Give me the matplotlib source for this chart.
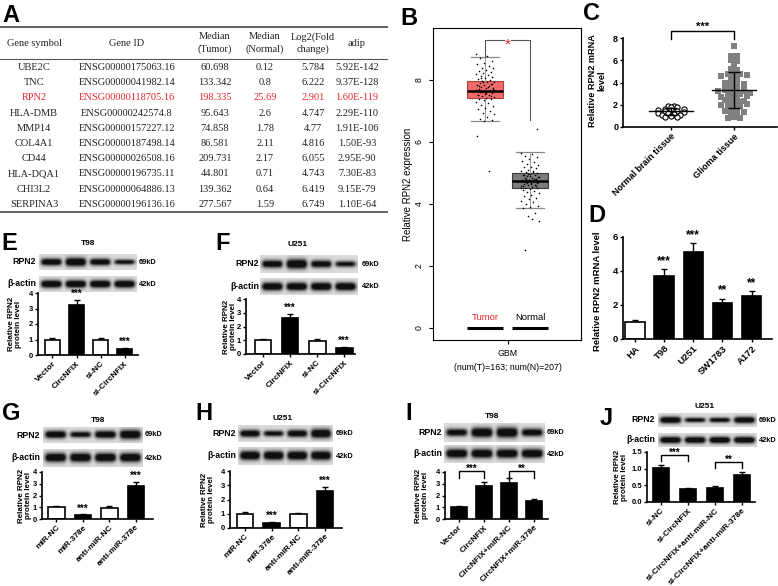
import numpy as np
import matplotlib
matplotlib.use('Agg')
import matplotlib.pyplot as plt

W, H = 778, 586
fig = plt.figure(figsize=(W / 100, H / 100), dpi=100)
SANS = ['Liberation Sans', 'DejaVu Sans']
SERIF = ['Liberation Serif', 'DejaVu Serif']
plt.rcParams['font.family'] = SANS

# ---------------- data ----------------
# Panel A table
table_header = ['Gene symbol', 'Gene ID', 'Median\n(Tumor)', 'Median\n(Normal)', 'Log2(Fold\nchange)', 'adip']
gene_symbols = ['UBE2C', 'TNC', 'RPN2', 'HLA-DMB', 'MMP14', 'COL4A1', 'CD44', 'HLA-DQA1', 'CHI3L2', 'SERPINA3']
gene_ids = ['ENSG00000175063.16', 'ENSG00000041982.14', 'ENSG00000118705.16', 'ENSG00000242574.8',
            'ENSG00000157227.12', 'ENSG00000187498.14', 'ENSG00000026508.16', 'ENSG00000196735.11',
            'ENSG00000064886.13', 'ENSG00000196136.16']
median_tumor = [60.698, 133.342, 198.335, 95.643, 74.858, 86.581, 209.731, 44.801, 139.362, 277.567]
median_normal = [0.12, 0.8, 25.69, 2.6, 1.78, 2.11, 2.17, 0.71, 0.64, 1.59]
log2_fold_change = [5.784, 6.222, 2.901, 4.747, 4.77, 4.816, 6.055, 4.743, 6.419, 6.749]
adip = ['5.92E-142', '9.37E-128', '1.60E-119', '2.29E-110', '1.91E-106', '1.50E-93', '2.95E-90',
        '7.30E-83', '9.15E-79', '1.10E-64']
highlight_gene = 'RPN2'

# Panel B (GEPIA box plot)
b_groups = ['Tumor', 'Normal']
tumor_box = [6.67, 7.42, 7.65, 7.98, 8.75]    # whisker low, Q1, median, Q3, whisker high
normal_box = [3.87, 4.50, 4.75, 5.00, 5.67]
tumor_points = [8.85, 8.78, 8.7, 8.62, 8.55, 8.5, 8.45, 8.4, 8.38, 8.33, 8.3, 8.27, 8.22, 8.2, 8.15,
                8.12, 8.1, 8.05, 8.02, 8.0, 7.98, 7.95, 7.93, 7.9, 7.88, 7.85, 7.83, 7.8, 7.78, 7.75,
                7.73, 7.7, 7.68, 7.66, 7.65, 7.63, 7.6, 7.58, 7.55, 7.53, 7.5, 7.48, 7.45, 7.43, 7.4,
                7.38, 7.35, 7.3, 7.25, 7.2, 7.15, 7.1, 7.05, 7.0, 6.95, 6.9, 6.82, 6.75, 6.7, 6.68,
                6.18, 5.07, 7.62, 7.72, 7.57, 7.82, 7.47, 7.92, 7.67, 7.77, 8.07, 7.87, 7.61, 7.52]
normal_points = [5.65, 5.6, 5.55, 5.5, 5.45, 5.4, 5.35, 5.3, 5.25, 5.2, 5.18, 5.15, 5.1, 5.08, 5.05,
                 5.02, 5.0, 4.98, 4.95, 4.93, 4.9, 4.88, 4.85, 4.83, 4.8, 4.78, 4.76, 4.74, 4.72, 4.7,
                 4.68, 4.65, 4.62, 4.6, 4.58, 4.55, 4.52, 4.5, 4.47, 4.45, 4.42, 4.4, 4.35, 4.3, 4.25,
                 4.2, 4.15, 4.1, 4.05, 4.0, 3.95, 3.9, 3.88, 3.7, 3.62, 3.45, 3.5, 2.5, 6.42, 4.77,
                 4.73, 4.82, 4.67, 4.87, 4.63, 4.92, 4.57, 4.97, 4.53, 5.03, 4.81, 4.69, 4.91, 4.59]
b_xlabel = 'GBM\n(num(T)=163; num(N)=207)'

# Panel C
c_groups = ['Normal brain tissue', 'Glioma tissue']
normal_tissue = [1.9, 1.88, 1.82, 1.78, 1.65, 1.6, 1.55, 1.5, 1.45, 1.42, 1.35, 1.3, 1.22, 1.18,
                 1.1, 1.05, 0.98, 0.92, 0.88]
glioma_tissue = [7.25, 6.4, 6.35, 6.0, 5.95, 5.8, 5.5, 5.2, 5.15, 4.8, 4.75, 4.75, 4.7, 4.6, 4.35,
                 4.3, 4.1, 4.05, 3.95, 3.85, 3.75, 3.6, 3.5, 3.45, 3.4, 3.35, 3.3, 3.25, 3.2, 3.1,
                 3.05, 2.95, 2.85, 2.75, 2.7, 2.6, 2.5, 2.45, 2.35, 2.3, 2.25, 2.2, 2.1, 2.0, 1.95,
                 1.85, 1.75, 1.5, 1.45, 1.4, 1.35, 1.25, 0.95, 0.9, 0.85, 0.85]

# Panel D
d_labels = ['HA', 'T98', 'U251', 'SW1783', 'A172']
d_values = [0.98, 3.69, 5.12, 2.13, 2.52]
d_errors = [0.15, 0.40, 0.52, 0.25, 0.30]
d_stars = ['', '***', '***', '**', '**']

# Panels E-J
ef_labels = ['Vector', 'CircNFIX', 'si-NC', 'si-CircNFIX']
e_values = [1.0, 3.22, 0.97, 0.38]
e_errors = [0.10, 0.33, 0.13, 0.08]
f_values = [1.0, 2.62, 0.97, 0.45]
f_errors = [0.10, 0.28, 0.12, 0.06]
ef_stars = ['', '***', '', '***']

gh_labels = ['miR-NC', 'miR-378e', 'anti-miR-NC', 'anti-miR-378e']
g_values = [1.0, 0.33, 0.95, 2.85]
g_errors = [0.10, 0.07, 0.13, 0.30]
h_values = [1.0, 0.38, 0.95, 2.62]
h_errors = [0.10, 0.06, 0.13, 0.28]
gh_stars = ['', '***', '', '***']

i_labels = ['Vector', 'CircNFIX', 'CircNFIX+miR-NC', 'CircNFIX+miR-378e']
i_values = [1.0, 2.82, 3.10, 1.50]
i_errors = [0.10, 0.35, 0.38, 0.18]
i_brackets = [(0, 1, '***'), (2, 3, '**')]

j_labels = ['si-NC', 'si-CircNFIX', 'si-CircNFIX+anti-miR-NC', 'si-CircNFIX+anti-miR-378e']
j_values = [1.02, 0.38, 0.42, 0.81]
j_errors = [0.08, 0.04, 0.05, 0.09]
j_brackets = [(0, 1, '***'), (2, 3, '**')]

# western blot band strengths (RPN2, beta-actin)
e_bands = ([0.7, 1.0, 0.65, 0.35], [0.8, 0.8, 0.8, 0.8])
f_bands = ([0.65, 1.0, 0.6, 0.35], [0.8, 0.8, 0.8, 0.8])
g_bands = ([0.7, 0.45, 0.7, 1.0], [0.8, 0.8, 0.8, 0.8])
h_bands = ([0.65, 0.4, 0.65, 1.0], [0.8, 0.8, 0.8, 0.8])
i_bands = ([0.55, 0.9, 1.0, 0.6], [0.8, 0.8, 0.8, 0.8])
j_bands = ([0.8, 0.4, 0.45, 0.75], [0.8, 0.8, 0.8, 0.8])


# ---------------- helpers ----------------
def px_axes(x0, y0, x1, y1):
    return fig.add_axes([x0 / W, 1 - y1 / H, (x1 - x0) / W, (y1 - y0) / H])


def ftext(x, y, s, **kw):
    return fig.text(x / W, 1 - y / H, s, **kw)


def panel_letter(x, y, s):
    ftext(x, y, s, fontsize=17, fontweight='bold', ha='left', va='baseline', family=SANS)


def gp_style(ax, tick_fs):
    for sp in ['top', 'right']:
        ax.spines[sp].set_visible(False)
    for sp in ['left', 'bottom']:
        ax.spines[sp].set_linewidth(1.2)
    ax.tick_params(axis='both', direction='out', length=2.5, width=1.0, labelsize=tick_fs, pad=1)
    for t in ax.get_yticklabels():
        t.set_fontweight('bold')


def blot(x0, y0, x1, y1, strengths):
    ax = px_axes(x0, y0, x1, y1)
    nx, ny = 240, 40
    xs = np.linspace(0, 1, nx)
    ys = np.linspace(-1, 1, ny)
    img = np.zeros((ny, nx))
    n = len(strengths)
    for i, s in enumerate(strengths):
        c = (i + 0.5) / n
        hw = 0.40 / n
        prof_x = 1 / (1 + np.exp(-(hw - np.abs(xs - c)) / 0.012))
        sig = 0.16 + 0.22 * s
        prof_y = np.exp(-0.5 * (ys / sig) ** 2)
        img = np.maximum(img, min(1.0, 0.6 + 0.5 * s) * np.outer(prof_y, prof_x))
    bg = 0.86
    gray = bg - (bg - 0.06) * np.clip(img * 1.4, 0, 1)
    ax.imshow(gray, cmap='gray', vmin=0, vmax=1, aspect='auto', extent=(0, 1, 1, 0),
              interpolation='bilinear')
    ax.set_axis_off()


def wb(title, tx, ty, xa, xb, rpn2_y, actin_y, bands, lab_x, kd_x):
    ftext(tx, ty, title, fontsize=6, fontweight='bold', ha='center', va='center')
    blot(xa, rpn2_y[0], xb, rpn2_y[1], bands[0])
    blot(xa, actin_y[0], xb, actin_y[1], bands[1])
    ftext(lab_x, sum(rpn2_y) / 2, 'RPN2', fontsize=6.3, fontweight='bold', ha='right', va='center')
    ftext(lab_x, sum(actin_y) / 2, 'β-actin', fontsize=6.3, fontweight='bold', ha='right', va='center')
    ftext(kd_x, sum(rpn2_y) / 2, '69kD', fontsize=5.3, fontweight='bold', ha='left', va='center')
    ftext(kd_x, sum(actin_y) / 2, '42kD', fontsize=5.3, fontweight='bold', ha='left', va='center')


def bar_panel(box, xlim, ymax, yticks, yfmt, labels, vals, errs, fills, ylabel, lab_rx,
              stars=None, brackets=None, tick_fs=5.5, xtick_fs=6.0, lab_fs=5.8, star_fs=7,
              lab_cy=0.5, bar_w=0.62):
    x0, y0, x1, y1 = box
    ax = px_axes(x0, y0, x1, y1)
    xpos = np.arange(len(vals))
    ax.bar(xpos, vals, width=bar_w, color=fills, edgecolor='black', linewidth=1.2, zorder=2)
    ax.errorbar(xpos, vals, yerr=[np.zeros(len(vals)), errs], fmt='none', ecolor='black',
                elinewidth=1.0, capsize=2.3, capthick=1.0, zorder=1)
    ax.set_xlim(*xlim)
    ax.set_ylim(0, ymax)
    ax.set_yticks(yticks)
    ax.set_yticklabels([yfmt % v for v in yticks])
    ax.set_xticks(xpos)
    ax.set_xticklabels(labels, rotation=45, ha='right', va='top', rotation_mode='anchor',
                       fontweight='bold')
    gp_style(ax, tick_fs)
    for t in ax.get_xticklabels():
        t.set_fontsize(xtick_fs)
    ax.set_ylabel(ylabel, fontsize=lab_fs, fontweight='bold', linespacing=1.0)
    ax.yaxis.set_label_coords((lab_rx - x0) / (x1 - x0), lab_cy)
    if stars:
        for xi, v, e, s in zip(xpos, vals, errs, stars):
            if s:
                ax.text(xi, v + e + 0.02 * ymax, s, ha='center', va='bottom', fontsize=star_fs,
                        fontweight='bold', clip_on=False)
    if brackets:
        for (a, b, s, yb, drop) in brackets:
            ax.plot([a, a, b, b], [yb - drop, yb, yb, yb - drop], color='black', lw=1.0,
                    clip_on=False, zorder=3)
            ax.text((a + b) / 2, yb - 0.06 * ymax, s, ha='center', va='bottom', fontsize=star_fs,
                    fontweight='bold', clip_on=False)
    return ax


def swarm_offsets(vals, bin_size, step):
    vals = np.asarray(vals, dtype=float)
    keys = np.round(vals / bin_size).astype(int)
    offs = np.zeros(len(vals))
    for k in np.unique(keys):
        idx = np.where(keys == k)[0]
        for j, i in enumerate(idx):
            m = (j + 1) // 2
            sign = 1 if j % 2 else -1
            offs[i] = sign * m * step
        if len(idx) % 2 == 0:
            offs[idx] -= step / 2
    return offs


# ---------------- Panel A: table ----------------
panel_letter(2, 22, 'A')
axA = px_axes(0, 0, 390, 216)
axA.set_xlim(0, 390)
axA.set_ylim(216, 0)
axA.set_axis_off()
col_x = [34, 127, 215, 265, 313, 357]
axA.plot([0, 387], [27, 27], color='#555555', lw=1.3)
axA.plot([0, 387], [59, 59], color='#555555', lw=0.8)
axA.plot([0, 387], [212, 212], color='#555555', lw=1.3)
for cx, htxt in zip(col_x, table_header):
    axA.text(cx, 43, htxt, ha='center', va='center', fontsize=7.5, family=SERIF,
             linespacing=1.35, color='#222222')
row_y0, row_dy = 67.5, 15.2
for r in range(len(gene_symbols)):
    y = row_y0 + r * row_dy
    col = '#E8262B' if gene_symbols[r] == highlight_gene else '#222222'
    cells = [gene_symbols[r], gene_ids[r], str(median_tumor[r]), str(median_normal[r]),
             str(log2_fold_change[r]), adip[r]]
    for cx, s in zip(col_x, cells):
        axA.text(cx, y, s, ha='center', va='center', fontsize=7.5, family=SERIF, color=col)

# ---------------- Panel B: box plot ----------------
panel_letter(400, 25, 'B')
axB = px_axes(433, 28, 581, 340)
b_pos = [1, 2]
stats = []
for bx in (tumor_box, normal_box):
    stats.append(dict(whislo=bx[0], q1=bx[1], med=bx[2], q3=bx[3], whishi=bx[4], fliers=[]))
bp = axB.bxp(stats, positions=b_pos, widths=0.8, patch_artist=True, showfliers=False,
             capwidths=0.62,
             medianprops=dict(color='black', linewidth=1.8),
             whiskerprops=dict(color='#9a9a9a', linewidth=0.7),
             capprops=dict(color='#8a8a8a', linewidth=0.9))
box_faces = ['#F36B6B', '#7c7c7c']
box_edges = ['#B04040', '#3c3c3c']
for patch, fc, ec in zip(bp['boxes'], box_faces, box_edges):
    patch.set_facecolor(fc)
    patch.set_edgecolor(ec)
    patch.set_linewidth(0.8)
for pos, pts in zip(b_pos, (tumor_points, normal_points)):
    n = len(pts)
    jit = ((np.arange(n) * 0.6180339887) % 1 - 0.5) * 0.42
    axB.scatter(pos + jit, pts, s=1.3, color='black', zorder=4, linewidths=0)
axB.set_xlim(-0.156, 3.133)
axB.set_ylim(-0.387, 9.677)
axB.set_yticks([0, 2, 4, 6, 8])
axB.set_yticklabels(['0', '2', '4', '6', '8'], rotation=90, va='center')
axB.set_xticks([np.mean(b_pos)])
axB.set_xticklabels([b_xlabel], linespacing=1.7)
axB.tick_params(labelsize=6.3, length=3, width=0.8)
for sp in axB.spines.values():
    sp.set_linewidth(0.8)
axB.set_ylabel('Relative RPN2 expression', fontsize=7)
axB.yaxis.set_label_coords((413 - 433) / 148, 0.5)
# significance bracket
yb = 9.29
axB.plot([b_pos[0], b_pos[0], 1.43], [tumor_box[4], yb, yb], color='#555555', lw=0.8)
axB.plot([1.57, b_pos[1], b_pos[1]], [yb, yb, 6.71], color='#555555', lw=0.8)
axB.text(np.mean(b_pos), yb - 0.15, '*', color='#E8262B', fontsize=11, ha='center', va='center')
# group labels along baseline
for pos, g, c in zip(b_pos, b_groups, ['#E8262B', 'black']):
    axB.plot([pos - 0.4, pos + 0.4], [0, 0], color='black', lw=2.2, solid_capstyle='butt')
    axB.text(pos, 0.18, g, color=c, fontsize=6.8, ha='center', va='bottom')

# ---------------- Panel C: scatter ----------------
panel_letter(583, 20, 'C')
axC = px_axes(623, 38, 777, 127)
c_pos = [0, 1]
off_n = swarm_offsets(normal_tissue, 0.28, 0.1)
off_g = swarm_offsets(glioma_tissue, 0.36, 0.1)
axC.scatter(c_pos[0] + off_n, normal_tissue, s=14, facecolors='white', edgecolors='black',
            linewidths=0.8, zorder=3)
axC.scatter(c_pos[1] + off_g, glioma_tissue, s=14, marker='s', color='#808080', linewidths=0,
            zorder=3)
for pos, data in zip(c_pos, (normal_tissue, glioma_tissue)):
    m = np.mean(data)
    sd = np.std(data, ddof=1)
    axC.plot([pos - 0.35, pos + 0.35], [m, m], color='black', lw=1.0, zorder=4)
    axC.errorbar([pos], [m], yerr=[[sd], [sd]], fmt='none', ecolor='black', elinewidth=1.0,
                 capsize=4, capthick=1.0, zorder=4)
axC.set_xlim(-0.76, 1.68)
axC.set_ylim(0, 8)
axC.set_yticks([0, 2, 4, 6, 8])
axC.set_xticks(c_pos)
axC.set_xticklabels(c_groups, rotation=45, ha='right', va='top', rotation_mode='anchor',
                    fontweight='bold')
gp_style(axC, 6.5)
axC.set_ylabel('Relative RPN2 mRNA\nlevel', fontsize=6.6, fontweight='bold', linespacing=1.0)
axC.yaxis.set_label_coords((606 - 623) / 154, 0.52)
axC.plot([0, 0, 1, 1], [7.9, 8.6, 8.6, 7.9], color='black', lw=1.0, clip_on=False)
axC.text(0.5, 8.55, '***', ha='center', va='bottom', fontsize=8, fontweight='bold')

# ---------------- Panel D ----------------
panel_letter(588, 222, 'D')
bar_panel((623, 237, 772, 339), (-0.41, 4.7), 6, [0, 2, 4, 6], '%d', d_labels, d_values,
          d_errors, ['white'] + ['black'] * 4, 'Relative RPN2 mRNA level', 602, stars=d_stars,
          tick_fs=6.8, xtick_fs=6.8, lab_fs=6.8, star_fs=8.5, lab_cy=0.47, bar_w=0.66)

# ---------------- Panel E ----------------
panel_letter(1, 250, 'E')
wb('T98', 88, 243, 39, 137, (254, 270), (276, 292), e_bands, 36, 139)
bar_panel((38, 293, 138, 355), (-0.6, 3.55), 4, [0, 1, 2, 3, 4], '%d', ef_labels, e_values,
          e_errors, ['white', 'black', 'white', 'black'], 'Relative RPN2\nprotein level', 22,
          stars=ef_stars)

# ---------------- Panel F ----------------
panel_letter(215, 250, 'F')
wb('U251', 298, 245, 260, 358, (255, 273), (278, 295), f_bands, 259, 362)
bar_panel((246, 299, 355, 354), (-0.63, 3.4), 4, [0, 1, 2, 3, 4], '%d', ef_labels, f_values,
          f_errors, ['white', 'black', 'white', 'black'], 'Relative RPN2\nprotein level', 237,
          stars=ef_stars)

# ---------------- Panel G ----------------
panel_letter(2, 420, 'G')
wb('T98', 98, 421, 43, 143, (427, 443), (449, 467), g_bands, 40, 145)
bar_panel((42, 472, 153, 519), (-0.54, 3.65), 4, [0, 1, 2, 3, 4], '%d', gh_labels, g_values,
          g_errors, ['white', 'black', 'white', 'black'], 'Relative RPN2\nprotein level', 32,
          stars=gh_stars)

# ---------------- Panel H ----------------
panel_letter(195, 420, 'H')
wb('U251', 283, 419, 238, 333, (425, 442), (447, 465), h_bands, 236, 336)
bar_panel((230, 471, 342, 528), (-0.56, 3.63), 4, [0, 1, 2, 3, 4], '%d', gh_labels, h_values,
          h_errors, ['white', 'black', 'white', 'black'], 'Relative RPN2\nprotein level', 215,
          stars=gh_stars)

# ---------------- Panel I ----------------
panel_letter(405, 420, 'I')
wb('T98', 492, 416, 444, 545, (423, 442), (445, 463), i_bands, 442, 547)
bar_panel((445, 472, 548, 519), (-0.56, 3.56), 4, [0, 1, 2, 3, 4], '%d', i_labels, i_values,
          i_errors, ['black'] * 4, 'Relative RPN2\nprotein level', 429,
          brackets=[(a, b, s, 4.05, 0.6) for a, b, s in i_brackets])

# ---------------- Panel J ----------------
panel_letter(600, 425, 'J')
wb('U251', 705, 406, 658, 757, (413, 427), (433, 447), j_bands, 655, 759)
bar_panel((647, 452, 755, 502), (-0.52, 3.48), 1.5, [0, 0.5, 1.0, 1.5], '%.1f', j_labels,
          j_values, j_errors, ['black'] * 4, 'Relative RPN2\nprotein level', 628,
          brackets=[(j_brackets[0][0], j_brackets[0][1], j_brackets[0][2], 1.41, 0.17),
                    (j_brackets[1][0], j_brackets[1][1], j_brackets[1][2], 1.20, 0.18)])

fig.savefig('out.png', dpi=100)
